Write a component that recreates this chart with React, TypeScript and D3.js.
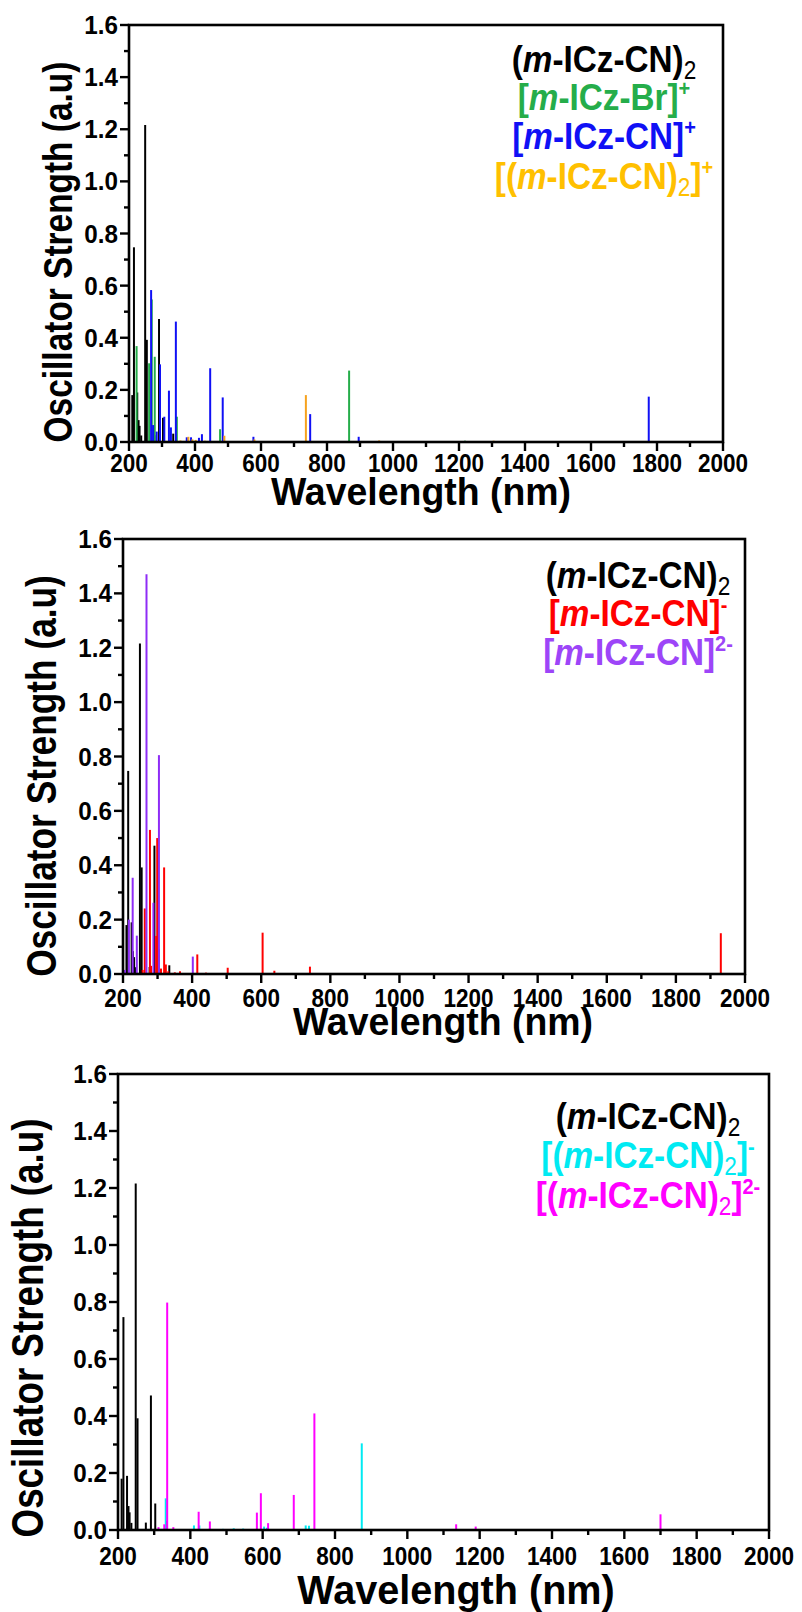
import React from 'react';
import * as d3 from 'd3';

// ---------- axis ticks ----------
const xTicks = [200, 400, 600, 800, 1000, 1200, 1400, 1600, 1800, 2000];
const xMinor = [300, 500, 700, 900, 1100, 1300, 1500, 1700, 1900];
const yTicks = [0, 0.2, 0.4, 0.6, 0.8, 1.0, 1.2, 1.4, 1.6];
const yMinor = [0.1, 0.3, 0.5, 0.7, 0.9, 1.1, 1.3, 1.5];

// ---------- data: wavelength (nm) / oscillator strength ----------
const dimerWl = [210, 215, 225, 229, 232, 237, 249, 254, 277, 291, 303, 334];
const dimerF = [0.18, 0.747, 0.19, 0.084, 0.062, 0.025, 1.216, 0.392, 0.026, 0.472, 0.093, 0.032];

const brCationWl = [223, 261, 269, 278, 345, 476, 867, 1218];
const brCationF = [0.368, 0.302, 0.547, 0.327, 0.097, 0.049, 0.274, 0.005];

const cnCationWl = [267, 273, 284, 294, 307, 321, 327, 342, 375, 388, 412, 421, 446, 484, 577, 749, 896, 1775];
const cnCationF = [0.583, 0.065, 0.04, 0.298, 0.097, 0.197, 0.056, 0.462, 0.018, 0.018, 0.016, 0.03, 0.283, 0.171, 0.02, 0.107, 0.02, 0.174];

const dimerCationWl = [348, 356, 364, 380, 392, 402, 430, 489, 580, 736, 958, 1305];
const dimerCationF = [0.004, 0.006, 0.004, 0.02, 0.01, 0.008, 0.005, 0.024, 0.01, 0.18, 0.006, 0.005];

const cnAnionWl = [257, 263, 278, 281, 296, 299, 310, 319, 324, 331, 350, 365, 415, 440, 503, 604, 638, 741, 1930];
const cnAnionF = [0.015, 0.241, 0.53, 0.03, 0.14, 0.5, 0.02, 0.392, 0.035, 0.01, 0.006, 0.01, 0.072, 0.005, 0.023, 0.152, 0.012, 0.027, 0.15];

const cnDianionWl = [206, 217, 228, 240, 268, 288, 304, 402];
const cnDianionF = [0.015, 0.2, 0.354, 0.141, 1.47, 0.262, 0.805, 0.064];

const dimerAnionWl = [332, 377, 410, 425, 451, 490, 520, 546, 604, 612, 719, 728, 874, 954, 1072];
const dimerAnionF = [0.111, 0.003, 0.016, 0.016, 0.004, 0.004, 0.006, 0.005, 0.012, 0.008, 0.016, 0.015, 0.304, 0.003, 0.003];

const dimerDianionWl = [312, 328, 336, 353, 423, 454, 584, 595, 615, 686, 743, 1135, 1189, 1700];
const dimerDianionF = [0.01, 0.02, 0.798, 0.01, 0.064, 0.03, 0.061, 0.129, 0.024, 0.123, 0.409, 0.02, 0.012, 0.055];

// ---------- legend labels ----------
type Seg = { t: string; s?: 'i' | 'sub' | 'sup' };
const lblDimer: Seg[] = [{ t: '(' }, { t: 'm', s: 'i' }, { t: '-ICz-CN)' }, { t: '2', s: 'sub' }];
const lblBrCat: Seg[] = [{ t: '[' }, { t: 'm', s: 'i' }, { t: '-ICz-Br]' }, { t: '+', s: 'sup' }];
const lblCnCat: Seg[] = [{ t: '[' }, { t: 'm', s: 'i' }, { t: '-ICz-CN]' }, { t: '+', s: 'sup' }];
const lblDimerCat: Seg[] = [{ t: '[(' }, { t: 'm', s: 'i' }, { t: '-ICz-CN)' }, { t: '2', s: 'sub' }, { t: ']' }, { t: '+', s: 'sup' }];
const lblCnAn: Seg[] = [{ t: '[' }, { t: 'm', s: 'i' }, { t: '-ICz-CN]' }, { t: '-', s: 'sup' }];
const lblCnDian: Seg[] = [{ t: '[' }, { t: 'm', s: 'i' }, { t: '-ICz-CN]' }, { t: '2-', s: 'sup' }];
const lblDimerAn: Seg[] = [{ t: '[(' }, { t: 'm', s: 'i' }, { t: '-ICz-CN)' }, { t: '2', s: 'sub' }, { t: ']' }, { t: '-', s: 'sup' }];
const lblDimerDian: Seg[] = [{ t: '[(' }, { t: 'm', s: 'i' }, { t: '-ICz-CN)' }, { t: '2', s: 'sub' }, { t: ']' }, { t: '2-', s: 'sup' }];

const FONT = "'Liberation Sans', Arial, sans-serif";

const C = {
  black: '#000000',
  green: '#25AD4A',
  blue: '#1010F5',
  orangeBar: '#F6A21E',
  orangeText: '#FFC000',
  red: '#FF0000',
  purpleBar: '#8E2CF6',
  purpleText: '#9D45F8',
  cyan: '#00EAF2',
  magenta: '#FF00FF',
};

interface SeriesDef { wl: number[]; f: number[]; color: string }
interface LegendDef { segs: Seg[]; color: string; baseline: number }

function CText(props: {
  x: number; y: number; sx: number; fs: number; anchor: string; rotate?: boolean;
  fill?: string; children: React.ReactNode;
}) {
  const { x, y, sx, fs, anchor, rotate, fill, children } = props;
  return (
    <g transform={`translate(${x},${y})${rotate ? ' rotate(-90)' : ''} scale(${sx},1)`}>
      <text x={0} y={0} textAnchor={anchor} fontFamily={FONT} fontWeight="bold" fontSize={fs} fill={fill || '#000'}>
        {children}
      </text>
    </g>
  );
}

function LegendText({ segs, color, x, y, fs, sx }: { segs: Seg[]; color: string; x: number; y: number; fs: number; sx: number }) {
  let shift = 0;
  const parts: React.ReactNode[] = [];
  segs.forEach((sg, i) => {
    let target = 0;
    let size = fs;
    let weight: any = 'bold';
    let style: any = 'normal';
    if (sg.s === 'sub') { target = 0.2 * fs; size = fs * 0.68; weight = 'normal'; }
    if (sg.s === 'sup') { target = -0.38 * fs; size = fs * 0.6; }
    if (sg.s === 'i') style = 'italic';
    const dy = target - shift;
    shift = target;
    parts.push(
      <tspan key={i} dy={dy} fontSize={size} fontWeight={weight} fontStyle={style}>{sg.t}</tspan>
    );
  });
  return (
    <CText x={x} y={y} sx={sx} fs={fs} anchor="middle" fill={color}>{parts}</CText>
  );
}

function Panel(props: {
  left: number; top: number; w: number; h: number;
  series: SeriesDef[]; legend: LegendDef[]; legendX: number;
  yTitle: { cx: number; cy: number; fs: number; sx: number };
  xTitle: { cx: number; cy: number; fs: number; sx: number };
  tickDy: number;
}) {
  const { left, top, w, h, series, legend, legendX, yTitle, xTitle, tickDy } = props;
  const tickFs = 25;
  const tickSx = 0.9;
  const x = d3.scaleLinear().domain([200, 2000]).range([left, left + w]);
  const y = d3.scaleLinear().domain([0, 1.6]).range([top + h, top]);
  const fmtY = d3.format('.1f');
  const bottom = top + h;
  return (
    <g>
      {series.map((s, si) => (
        <g key={si}>
          {s.wl.map((wl, i) => (
            <line key={i} x1={x(wl)} x2={x(wl)} y1={y(0)} y2={y(s.f[i])} stroke={s.color} strokeWidth={2} />
          ))}
        </g>
      ))}
      {/* frame */}
      <rect x={left} y={top} width={w} height={h} fill="none" stroke="#000" strokeWidth={2.6} />
      {/* x ticks */}
      {xTicks.map((t) => (
        <g key={'xt' + t}>
          <line x1={x(t)} x2={x(t)} y1={bottom} y2={bottom + 9} stroke="#000" strokeWidth={2.4} />
          <CText x={x(t)} y={bottom + tickDy} sx={tickSx} fs={tickFs} anchor="middle">{t}</CText>
        </g>
      ))}
      {xMinor.map((t) => (
        <line key={'xm' + t} x1={x(t)} x2={x(t)} y1={bottom} y2={bottom + 5} stroke="#000" strokeWidth={2.4} />
      ))}
      {/* y ticks */}
      {yTicks.map((t) => (
        <g key={'yt' + t}>
          <line x1={left - 9} x2={left} y1={y(t)} y2={y(t)} stroke="#000" strokeWidth={2.4} />
          <CText x={left - 11} y={y(t) + tickFs * 0.36} sx={0.97} fs={tickFs} anchor="end">{fmtY(t)}</CText>
        </g>
      ))}
      {yMinor.map((t) => (
        <line key={'ym' + t} x1={left - 5} x2={left} y1={y(t)} y2={y(t)} stroke="#000" strokeWidth={2.4} />
      ))}
      {/* titles */}
      <CText x={yTitle.cx + 0.26 * yTitle.fs} y={yTitle.cy} sx={yTitle.sx} fs={yTitle.fs} anchor="middle" rotate>
        Oscillator Strength (a.u)
      </CText>
      <CText x={xTitle.cx} y={xTitle.cy + 0.26 * xTitle.fs} sx={xTitle.sx} fs={xTitle.fs} anchor="middle">
        Wavelength (nm)
      </CText>
      {/* legend */}
      {legend.map((l, i) => (
        <LegendText key={i} segs={l.segs} color={l.color} x={legendX} y={l.baseline} fs={37} sx={0.9} />
      ))}
    </g>
  );
}

export default function App() {
  const dimer = { wl: dimerWl, f: dimerF, color: C.black };
  return (
    <svg width={802} height={1612} style={{ position: 'absolute', left: 0, top: 0, background: '#fff' }}>
      <rect x={0} y={0} width={802} height={1612} fill="#fff" />
      <Panel
        left={129} top={25} w={594} h={417}
        series={[
          dimer,
          { wl: brCationWl, f: brCationF, color: C.green },
          { wl: cnCationWl, f: cnCationF, color: C.blue },
          { wl: dimerCationWl, f: dimerCationF, color: C.orangeBar },
        ]}
        legend={[
          { segs: lblDimer, color: C.black, baseline: 72 },
          { segs: lblBrCat, color: C.green, baseline: 110 },
          { segs: lblCnCat, color: C.blue, baseline: 149 },
          { segs: lblDimerCat, color: C.orangeText, baseline: 189 },
        ]}
        legendX={604}
        yTitle={{ cx: 61.5, cy: 252, fs: 40, sx: 0.836 }}
        xTitle={{ cx: 421, cy: 495, fs: 39, sx: 0.96 }}
        tickDy={30}
      />
      <Panel
        left={123} top={539} w={622} h={435}
        series={[
          dimer,
          { wl: cnAnionWl, f: cnAnionF, color: C.red },
          { wl: cnDianionWl, f: cnDianionF, color: C.purpleBar },
        ]}
        legend={[
          { segs: lblDimer, color: C.black, baseline: 588 },
          { segs: lblCnAn, color: C.red, baseline: 626 },
          { segs: lblCnDian, color: C.purpleText, baseline: 665 },
        ]}
        legendX={638}
        yTitle={{ cx: 45, cy: 776, fs: 42, sx: 0.84 }}
        xTitle={{ cx: 443, cy: 1025, fs: 39, sx: 0.96 }}
        tickDy={33}
      />
      <Panel
        left={118} top={1074} w={651} h={456}
        series={[
          dimer,
          { wl: dimerAnionWl, f: dimerAnionF, color: C.cyan },
          { wl: dimerDianionWl, f: dimerDianionF, color: C.magenta },
        ]}
        legend={[
          { segs: lblDimer, color: C.black, baseline: 1129 },
          { segs: lblDimerAn, color: C.cyan, baseline: 1168 },
          { segs: lblDimerDian, color: C.magenta, baseline: 1208 },
        ]}
        legendX={648}
        yTitle={{ cx: 32, cy: 1328, fs: 44, sx: 0.836 }}
        xTitle={{ cx: 456, cy: 1594, fs: 40, sx: 0.99 }}
        tickDy={35}
      />
    </svg>
  );
}
